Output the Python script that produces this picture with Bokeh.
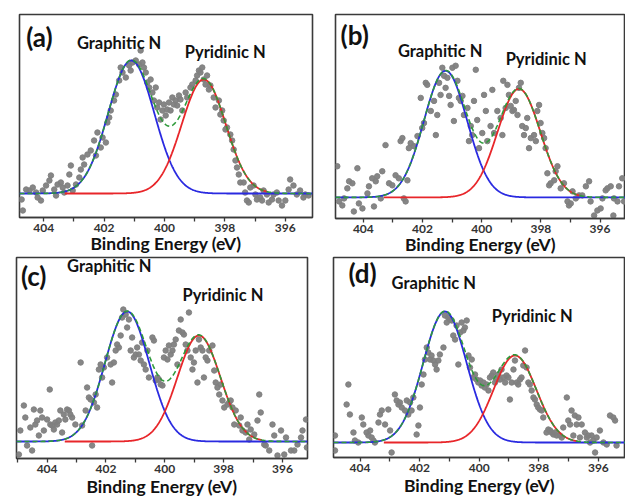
import numpy as np
from bokeh.plotting import figure
from bokeh.layouts import column, row
from bokeh.models import Range1d, FixedTicker, Label
from bokeh.embed import file_html
from bokeh.resources import INLINE

# ---------------- data ----------------
tick_values = [404, 402, 400, 398, 396]
minor_values = [405, 403, 401, 399, 397, 395]
x_title = "Binding Energy (eV)"
peak_names = ["Graphitic N", "Pyridinic N"]
panel_tags = ["(a)", "(b)", "(c)", "(d)"]

# Panel (a) measured points (binding energy, intensity a.u.)
a_energy = [404.73, 404.69, 404.58, 404.47, 404.36, 404.25, 404.20, 404.09, 404.03, 403.92,
            403.81, 403.76, 403.65, 403.59, 403.54, 403.43, 403.37, 403.32, 403.21, 403.15,
            403.10, 403.04, 402.93, 402.82, 402.77, 402.71, 402.66, 402.55, 402.44, 402.33,
            402.27, 402.22, 402.11, 402.05, 401.94, 401.89, 401.83, 401.78, 401.67, 401.61,
            401.50, 401.45, 401.39, 401.28, 401.17, 401.12, 401.06, 400.95, 400.84, 400.79,
            400.73, 400.68, 400.62, 400.57, 400.51, 400.46, 400.40, 400.35, 400.29, 400.24,
            400.18, 400.13, 400.07, 400.02, 399.96, 399.91, 399.85, 399.80, 399.74, 399.69,
            399.63, 399.58, 399.52, 399.47, 399.41, 399.30, 399.25, 399.14, 399.08, 398.97,
            398.92, 398.86, 398.81, 398.75, 398.70, 398.64, 398.59, 398.53, 398.48, 398.37,
            398.31, 398.20, 398.15, 398.09, 398.04, 397.98, 397.93, 397.82, 397.76, 397.71,
            397.65, 397.60, 397.54, 397.49, 397.38, 397.33, 397.27, 397.21, 397.16, 397.05,
            396.99, 396.94, 396.83, 396.77, 396.72, 396.61, 396.55, 396.44, 396.39, 396.28,
            396.22, 396.11, 396.00, 395.89, 395.84, 395.73, 395.62, 395.51, 395.40, 395.34,
            395.23]
a_counts = [-6, -17, 4, 3, 6, 1, -4, -7, 3, 8,
            13, 18, 4, -2, 9, 11, 6, 1, 8, 19,
            28, 3, 9, 16, 24, 36, 29, 39, 43, 53,
            38, 61, 46, 56, 51, 71, 76, 83, 93, 99,
            113, 126, 121, 116, 128, 123, 131, 133, 129, 143,
            131, 126, 121, 111, 106, 114, 101, 93, 106, 86,
            91, 74, 83, 89, 78, 84, 91, 83, 96, 89,
            93, 88, 98, 94, 83, 101, 96, 106, 109, 113,
            118, 123, 121, 126, 114, 109, 118, 104, 108, 96,
            86, 93, 79, 83, 73, 64, 66, 59, 53, 44,
            33, 26, 19, 11, 11, 1, -7, -9, 6, 8,
            -1, -6, -4, -7, 3, -1, -9, -6, -1, 1,
            -7, -12, -7, 4, 14, 8, -1, 3, -4, -1,
            -2]

# Panel (b)
b_energy = [404.88, 404.82, 404.71, 404.65, 404.54, 404.48, 404.37, 404.32, 404.20, 404.15,
            404.03, 403.86, 403.81, 403.70, 403.64, 403.58, 403.53, 403.41, 403.36, 403.25,
            403.13, 403.02, 402.91, 402.80, 402.74, 402.68, 402.63, 402.57, 402.51, 402.46,
            402.40, 402.29, 402.17, 402.06, 402.01, 401.95, 401.89, 401.84, 401.72, 401.61,
            401.55, 401.50, 401.44, 401.39, 401.33, 401.27, 401.22, 401.16, 401.10, 401.05,
            400.99, 400.94, 400.88, 400.82, 400.77, 400.71, 400.65, 400.60, 400.48, 400.43,
            400.37, 400.32, 400.26, 400.20, 400.15, 400.09, 399.98, 399.92, 399.86, 399.81,
            399.70, 399.64, 399.58, 399.47, 399.36, 399.30, 399.27, 399.19, 399.13, 399.08,
            399.02, 398.96, 398.91, 398.85, 398.79, 398.74, 398.68, 398.63, 398.57, 398.51,
            398.46, 398.40, 398.34, 398.23, 398.17, 398.12, 398.06, 398.01, 397.95, 397.89,
            397.84, 397.78, 397.72, 397.67, 397.55, 397.50, 397.44, 397.33, 397.22, 397.10,
            397.05, 396.99, 396.93, 396.82, 396.71, 396.60, 396.48, 396.37, 396.32, 396.20,
            396.09, 395.98, 395.92, 395.81, 395.75, 395.64, 395.55, 395.53, 395.41, 395.36,
            395.25, 395.19]
b_counts = [31, -4, -8, -1, 9, 16, 14, -14, 29, -6,
            -11, 4, 11, 19, -9, 16, 21, -1, 26, 52,
            14, 12, 22, 19, 56, 59, -1, -4, 17, 49,
            54, 51, 61, 99, 69, 74, 114, 112, 86, 96,
            62, 82, 114, 102, 129, 121, 109, 119, 101, 92,
            129, 76, 131, 116, 99, 96, 101, 82, 89, 56,
            71, 62, 96, 127, 77, 49, 64, 102, 86, 56,
            71, 107, 64, 86, 79, 62, 116, 89, 112, 102,
            91, 86, 87, 96, 82, 109, 114, 71, 62, 69,
            79, 49, 59, 62, 56, 86, 92, 74, 64, 59,
            49, 24, 12, 14, 17, 26, 31, 9, 14, -4,
            -8, -6, 6, -1, 2, 2, 11, 16, -4, -18,
            -13, -11, -1, 7, 9, 11, -18, -1, -4, 11,
            19, -4]

# Panel (c)
c_energy = [404.96, 404.91, 404.79, 404.74, 404.68, 404.57, 404.51, 404.45, 404.40, 404.34,
            404.28, 404.23, 404.17, 404.11, 404.00, 403.91, 403.89, 403.83, 403.77, 403.72,
            403.66, 403.60, 403.55, 403.49, 403.43, 403.38, 403.32, 403.26, 403.21, 403.15,
            403.04, 402.86, 402.81, 402.69, 402.64, 402.58, 402.52, 402.47, 402.41, 402.35,
            402.30, 402.24, 402.18, 402.13, 402.07, 401.96, 401.84, 401.79, 401.73, 401.67,
            401.62, 401.56, 401.50, 401.45, 401.41, 401.33, 401.28, 401.22, 401.16, 401.11,
            401.05, 400.99, 400.94, 400.88, 400.82, 400.77, 400.71, 400.65, 400.59, 400.54,
            400.42, 400.37, 400.31, 400.25, 400.20, 400.14, 400.08, 400.03, 399.97, 399.91,
            399.86, 399.80, 399.74, 399.69, 399.63, 399.57, 399.52, 399.46, 399.40, 399.35,
            399.29, 399.23, 399.18, 399.12, 399.06, 399.01, 398.95, 398.89, 398.84, 398.78,
            398.72, 398.67, 398.61, 398.55, 398.49, 398.38, 398.32, 398.27, 398.21, 398.15,
            398.10, 398.04, 397.98, 397.87, 397.81, 397.76, 397.70, 397.64, 397.59, 397.47,
            397.42, 397.36, 397.25, 397.19, 397.13, 397.08, 396.96, 396.85, 396.79, 396.74,
            396.62, 396.57, 396.45, 396.34, 396.28, 396.17, 396.05, 395.94, 395.88, 395.71,
            395.60, 395.49, 395.37, 395.32, 395.20, 395.17]
c_counts = [-13, 11, 36, 24, -4, 14, -9, 32, 17, 21,
            6, 31, 24, 11, 22, 52, 17, 16, 12, 19,
            17, 21, 31, 9, 27, 22, 32, 31, 27, 24,
            17, 79, 16, 31, 54, 44, 42, -4, 39, 47,
            34, 72, 77, 64, 74, 84, 77, 59, 79, 91,
            97, 94, 106, 124, 132, 127, 114, 122, 91, 104,
            84, 87, 94, 87, 81, 99, 77, 72, 91, 64,
            104, 101, 61, 64, 62, 57, 56, 84, 91, 82,
            96, 87, 91, 97, 102, 77, 111, 122, 109, 107,
            97, 91, 129, 84, 72, 79, 91, 59, 102, 94,
            91, 64, 84, 81, 91, 96, 71, 59, 54, 47,
            57, 41, 34, 37, 39, 41, 34, 17, 31, 16,
            24, 11, 9, 17, 2, 12, 7, 21, 47, 29,
            -3, -4, -9, 17, 6, -14, 11, -13, 4, -9,
            -9, -3, 4, 11, 22, -6]

# Panel (d)
d_energy = [404.84, 404.84, 404.45, 404.39, 404.34, 404.22, 404.17, 404.06, 403.94, 403.89,
            403.78, 403.72, 403.66, 403.61, 403.55, 403.50, 403.38, 403.33, 403.27, 403.16,
            403.05, 402.99, 402.94, 402.83, 402.77, 402.71, 402.66, 402.60, 402.49, 402.43,
            402.38, 402.32, 402.27, 402.21, 402.10, 402.04, 401.99, 401.93, 401.87, 401.82,
            401.76, 401.71, 401.65, 401.60, 401.54, 401.48, 401.43, 401.37, 401.32, 401.20,
            401.15, 401.09, 401.04, 400.98, 400.92, 400.87, 400.81, 400.76, 400.70, 400.64,
            400.59, 400.53, 400.48, 400.42, 400.36, 400.31, 400.25, 400.20, 400.14, 400.09,
            400.03, 399.97, 399.92, 399.86, 399.81, 399.75, 399.69, 399.64, 399.58, 399.53,
            399.47, 399.41, 399.36, 399.30, 399.25, 399.19, 399.13, 399.08, 399.02, 398.97,
            398.91, 398.85, 398.80, 398.74, 398.69, 398.63, 398.58, 398.52, 398.46, 398.41,
            398.35, 398.30, 398.24, 398.18, 398.13, 398.07, 398.02, 397.96, 397.90, 397.85,
            397.74, 397.68, 397.62, 397.57, 397.51, 397.46, 397.40, 397.29, 397.23, 397.18,
            397.06, 397.01, 396.95, 396.90, 396.84, 396.79, 396.73, 396.67, 396.62, 396.56,
            396.45, 396.39, 396.34, 396.28, 396.23, 396.17, 396.11, 396.06, 395.95, 395.83,
            395.72, 395.61, 395.50, 395.44, 395.39]
d_counts = [7, -8, 38, 58, 28, 10, 2, 0, 25, 18,
            10, 7, 12, 5, 2, 0, 20, 28, 32, 18,
            33, 12, -10, 48, 42, 38, 40, 35, 32, 42,
            28, 40, 32, 45, 8, 17, 35, 58, 68, 83,
            95, 90, 83, 87, 82, 78, 73, 82, 88, 95,
            127, 120, 125, 123, 122, 107, 103, 117, 78, 110,
            120, 112, 115, 122, 87, 75, 83, 65, 68, 63,
            60, 62, 57, 60, 55, 58, 52, 65, 67, 70,
            60, 63, 68, 63, 73, 65, 60, 67, 65, 43,
            60, 73, 82, 60, 58, 63, 65, 77, 92, 75,
            60, 58, 52, 45, 43, 38, 35, 33, 32, 25,
            10, 13, 12, 10, 8, 10, 7, 7, 5, 15,
            45, 22, 18, 32, 7, 27, 18, 25, 5, 18,
            10, 5, 7, 0, 7, 2, -10, 5, 12, 0,
            -2, 27, 25, 22, -3]

# Fitted Gaussian components: [centre eV, height a.u., sigma eV]
a_graphitic = [401.10, 133, 0.76]
a_pyridinic = [398.70, 114, 0.73]
b_graphitic = [401.22, 126, 0.73]
b_pyridinic = [398.74, 108, 0.72]
c_graphitic = [401.28, 130, 0.75]
c_pyridinic = [398.84, 106, 0.73]
d_graphitic = [401.15, 131, 0.73]
d_pyridinic = [398.80, 87, 0.72]
# energy span over which the pyridinic component was drawn
a_pyr_span = [403.30, 396.60]
b_pyr_span = [403.30, 396.70]
c_pyr_span = [403.40, 396.70]
d_pyr_span = [403.20, 396.70]

# ---------------- layout / styling ----------------
FONT = "Lato"
layouts = [
    dict(x=(404.80, 395.10), y=(-24, 179), fw=293, fh=203, l=19, r=8, t=14, b=39,
         tag=(404.58, 157), gl=(402.90, 151), pl=(399.33, 142), stand=-2),
    dict(x=(404.94, 395.14), y=(-21, 182), fw=290, fh=204, l=15, r=0, t=13, b=39,
         tag=(404.77, 162), gl=(402.83, 146), pl=(399.19, 138), stand=-2),
    dict(x=(405.04, 395.15), y=(-17, 184), fw=291, fh=201, l=16, r=13, t=1, b=41,
         tag=(404.89, 166), gl=(403.32, 176), pl=(399.40, 147), stand=0),
    dict(x=(404.89, 395.09), y=(-15, 185), fw=292, fh=200, l=13, r=0, t=1, b=42,
         tag=(404.39, 170), gl=(402.94, 160), pl=(399.58, 127), stand=0),
]


def gauss(e, comp):
    c, h, s = comp
    return h * np.exp(-((e - c) ** 2) / (2 * s * s))


def make_panel(tag, energy, counts, g, pyr, span, L):
    p = figure(output_backend="svg", toolbar_location=None,
               frame_width=L["fw"], frame_height=L["fh"],
               x_range=Range1d(*L["x"]), y_range=Range1d(*L["y"]),
               min_border_left=L["l"], min_border_right=L["r"],
               min_border_top=L["t"], min_border_bottom=L["b"])
    p.background_fill_color = "white"
    p.border_fill_color = "white"
    p.outline_line_color = "#3a3a3a"
    p.outline_line_width = 1.6
    p.xgrid.visible = False
    p.ygrid.visible = False
    p.yaxis.visible = False

    ax = p.xaxis[0]
    ax.ticker = FixedTicker(ticks=tick_values, minor_ticks=minor_values)
    ax.axis_line_color = "#3a3a3a"
    ax.axis_line_width = 1.6
    ax.major_tick_in = 0
    ax.major_tick_out = 4
    ax.minor_tick_in = 0
    ax.minor_tick_out = 4
    ax.major_tick_line_color = "#3a3a3a"
    ax.minor_tick_line_color = "#3a3a3a"
    ax.major_tick_line_width = 1.3
    ax.minor_tick_line_width = 1.3
    ax.major_label_text_font = FONT
    ax.major_label_text_font_style = "bold"
    ax.major_label_text_font_size = "12px"
    ax.major_label_text_color = "#333333"
    ax.major_label_standoff = 2
    ax.axis_label = x_title
    ax.axis_label_text_font = FONT
    ax.axis_label_text_font_style = "bold"
    ax.axis_label_text_font_size = "17.5px"
    ax.axis_label_text_color = "#111111"
    ax.axis_label_standoff = L["stand"]

    # data points
    p.scatter(energy, counts, size=5.5, color="#7f7f7f", alpha=0.95)

    # fit components
    e_all = np.linspace(L["x"][0], L["x"][1], 500)
    e_pyr = np.linspace(span[0], span[1], 400)
    p.line(e_all, gauss(e_all, g), line_color="#2a2ae0", line_width=1.8)
    p.line(e_pyr, gauss(e_pyr, pyr), line_color="#e8262a", line_width=1.8)
    p.line(e_all, gauss(e_all, g) + gauss(e_all, pyr), line_color="#2e9a3a",
           line_width=1.6, line_dash="5 3")

    p.add_layout(Label(x=L["tag"][0], y=L["tag"][1], text=tag, text_font=FONT,
                       text_font_style="bold", text_font_size="26px",
                       text_baseline="middle", text_align="left", text_color="#111111"))
    p.add_layout(Label(x=L["gl"][0], y=L["gl"][1], text=peak_names[0], text_font=FONT,
                       text_font_style="bold", text_font_size="16.5px",
                       text_baseline="middle", text_align="left", text_color="#111111"))
    p.add_layout(Label(x=L["pl"][0], y=L["pl"][1], text=peak_names[1], text_font=FONT,
                       text_font_style="bold", text_font_size="16.5px",
                       text_baseline="middle", text_align="left", text_color="#111111"))
    return p


pa = make_panel(panel_tags[0], a_energy, a_counts, a_graphitic, a_pyridinic, a_pyr_span, layouts[0])
pb = make_panel(panel_tags[1], b_energy, b_counts, b_graphitic, b_pyridinic, b_pyr_span, layouts[1])
pc = make_panel(panel_tags[2], c_energy, c_counts, c_graphitic, c_pyridinic, c_pyr_span, layouts[2])
pd = make_panel(panel_tags[3], d_energy, d_counts, d_graphitic, d_pyridinic, d_pyr_span, layouts[3])

layout = column(row(pa, pb), row(pc, pd))
open("out.html", "w").write(file_html(layout, INLINE))
